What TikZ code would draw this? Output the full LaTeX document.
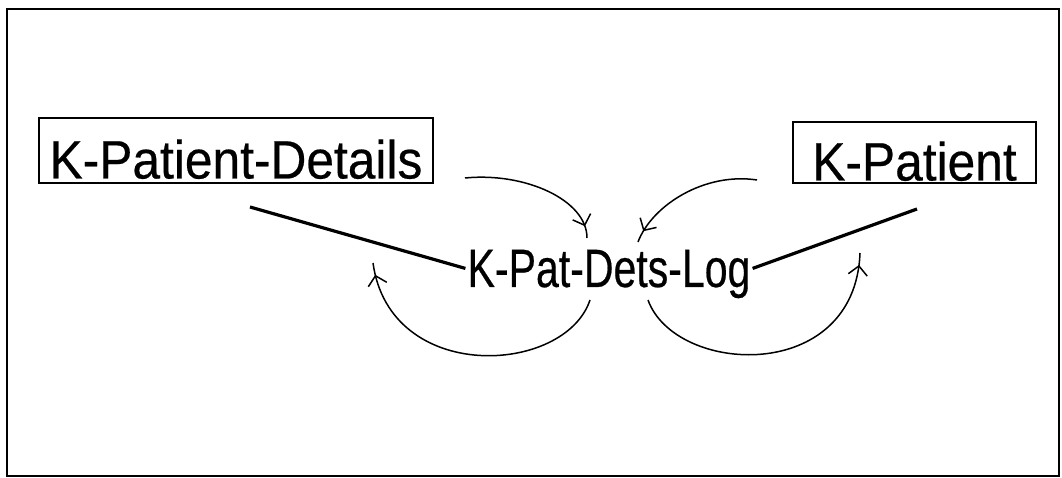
\documentclass[tikz,border=0pt]{standalone}
\usepackage{fontspec}
\setmainfont{Liberation Sans}
\newfontfamily\entfont[FakeStretch=0.92,FakeBold=0.4]{Liberation Sans}
\newfontfamily\logfont[FakeStretch=0.76,FakeBold=0.4]{Liberation Sans}
\usetikzlibrary{arrows.meta,decorations.markings}
\newlength{\du}
\setlength{\du}{1pt}
\definecolor{dialinecolor}{rgb}{0.000000, 0.000000, 0.000000}
\tikzset{
  entbox/.style={draw=dialinecolor, line width=1.5\du, inner sep=0pt, text height=56\du, text depth=0pt, font=\entfont\fontsize{54\du}{64\du}\selectfont},
  loglabel/.style={inner sep=2\du, text depth=0pt, font=\logfont\fontsize{54\du}{64\du}\selectfont},
  link/.style={draw=dialinecolor, line width=3.2\du},
  flow/.style={draw=dialinecolor, line width=1.5\du, postaction={decorate},
    decoration={markings, mark=at position -12pt with {\arrow{Straight Barb[length=9pt,width=19pt]}}}}
}

\begin{document}
\begin{tikzpicture}
\pgftransformxscale{1.000000}
\pgftransformyscale{-1.000000}
\useasboundingbox (0\du,0\du) rectangle (1062\du,478\du);
\draw[line width=2.5\du, draw=dialinecolor] (7\du,9\du) rectangle (1059\du,476\du);
% setfont left to latex
\node[entbox, minimum width=394\du, minimum height=65\du] (pd) at (236\du,150.5\du){K-Patient-Details};
\node[entbox, minimum width=243\du, minimum height=61\du] (pt) at (914.5\du,152.5\du){K-Patient};
\node[loglabel, anchor=base] (log) at (609\du,287\du){K-Pat-Dets-Log};
\coordinate (pdfoot) at (250\du,207\du);
\coordinate (ptfoot) at (917\du,209\du);
\draw[link] (pdfoot)--(log.west);
\draw[link] (log.east)--(ptfoot);
% the four log arrows
\coordinate (tl1) at (465\du,178\du);
\coordinate (tl2) at (587\du,238\du);
\coordinate (tr1) at (757\du,180\du);
\coordinate (tr2) at (638\du,242\du);
\coordinate (bl1) at (590\du,300\du);
\coordinate (bl2) at (373\du,263\du);
\coordinate (br1) at (648\du,300\du);
\coordinate (br2) at (860\du,253\du);
\draw[flow] (tl1) .. controls (525\du,172\du) and (587\du,200\du) .. (tl2);
\draw[flow] (tr1) .. controls (705\du,172\du) and (652\du,205\du) .. (tr2);
\draw[flow] (bl1) .. controls (565\du,375\du) and (390\du,385\du) .. (bl2);
\draw[flow] (br1) .. controls (675\du,375\du) and (855\du,385\du) .. (br2);
\end{tikzpicture}
\end{document}
